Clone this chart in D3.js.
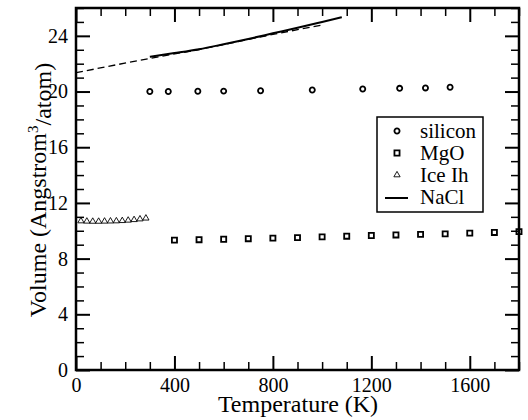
<!DOCTYPE html>
<html>
<head>
<meta charset="utf-8">
<script src="https://cdn.jsdelivr.net/npm/d3@7"></script>
<style>
  body { margin: 0; background: #fff; }
  svg text { font-family: "Liberation Serif", "Times New Roman", Times, "DejaVu Serif", serif !important; fill: #000; }
</style>
</head>
<body>
<div id="chart"></div>
<script>
// ---- data ----
const siliconT = [300, 375, 495, 600, 750, 960, 1165, 1315, 1420, 1520];
const siliconV = [20.0, 20.0, 20.02, 20.03, 20.06, 20.11, 20.18, 20.23, 20.26, 20.31];

const mgoT = [400, 500, 600, 700, 800, 900, 1000, 1100, 1200, 1300, 1400, 1500, 1600, 1700, 1800];
const mgoV = [9.33, 9.36, 9.39, 9.43, 9.47, 9.51, 9.56, 9.61, 9.66, 9.70, 9.74, 9.78, 9.83, 9.88, 9.94];

const iceT = [20, 44, 68, 92, 116, 140, 164, 188, 212, 236, 260, 284];
const iceV = [10.7, 10.68, 10.67, 10.67, 10.68, 10.69, 10.7, 10.72, 10.75, 10.79, 10.84, 10.9];

const naclT = [300, 400, 500, 600, 700, 800, 900, 1000, 1080];
const naclV = [22.5, 22.76, 23.04, 23.4, 23.78, 24.18, 24.58, 25.0, 25.34];

// dashed fit curve
const fitT = [0, 300, 500, 800, 1000];
const fitV = [21.35, 22.38, 23.02, 24.1, 24.78];

const xMajor = [0, 400, 800, 1200, 1600];
const yMajor = [0, 4, 8, 12, 16, 20, 24];
const legendLabels = ["silicon", "MgO", "Ice Ih", "NaCl"];

const FONT = '"Liberation Serif", "Times New Roman", Times, "DejaVu Serif", serif';

// ---- layout ----
const width = 528, height = 420;
const margin = { top: 8, right: 9, bottom: 50, left: 76 };
const iw = width - margin.left - margin.right;
const ih = height - margin.top - margin.bottom;

const svg = d3.select("#chart").append("svg")
  .attr("width", width)
  .attr("height", height)
  .attr("font-family", FONT);

const g = svg.append("g").attr("transform", `translate(${margin.left},${margin.top})`);

const x = d3.scaleLinear().domain([0, 1800]).range([0, iw]);
const y = d3.scaleLinear().domain([0, 26]).range([ih, 0]);

const xMinor = d3.range(0, 1801, 100).filter(v => !xMajor.includes(v));
const yMinor = d3.range(0, 27, 1).filter(v => !yMajor.includes(v));

// ---- axes (ticks point inward on all four sides) ----
function styleAxis(sel, w) {
  sel.attr("font-family", FONT);
  sel.select(".domain").remove();
  sel.selectAll(".tick line").attr("stroke", "#000").attr("stroke-width", w);
  sel.selectAll(".tick text")
    .style("font-size", "20px")
    .style("font-family", FONT)
    .attr("fill", "#000");
}

// bottom
g.append("g").attr("transform", `translate(0,${ih})`)
  .call(d3.axisBottom(x).tickValues(xMajor).tickSize(-14).tickPadding(8).tickFormat(d3.format("d")))
  .call(s => styleAxis(s, 2));
g.append("g").attr("transform", `translate(0,${ih})`)
  .call(d3.axisBottom(x).tickValues(xMinor).tickSize(-8).tickFormat(""))
  .call(s => styleAxis(s, 1.5));
// top
g.append("g")
  .call(d3.axisTop(x).tickValues(xMajor).tickSize(-14).tickFormat(""))
  .call(s => styleAxis(s, 2));
g.append("g")
  .call(d3.axisTop(x).tickValues(xMinor).tickSize(-8).tickFormat(""))
  .call(s => styleAxis(s, 1.5));
// left
g.append("g")
  .call(d3.axisLeft(y).tickValues(yMajor).tickSize(-14).tickPadding(8).tickFormat(d3.format("d")))
  .call(s => styleAxis(s, 2));
g.append("g")
  .call(d3.axisLeft(y).tickValues(yMinor).tickSize(-8).tickFormat(""))
  .call(s => styleAxis(s, 1.5));
// right
g.append("g").attr("transform", `translate(${iw},0)`)
  .call(d3.axisRight(y).tickValues(yMajor).tickSize(-14).tickFormat(""))
  .call(s => styleAxis(s, 2));
g.append("g").attr("transform", `translate(${iw},0)`)
  .call(d3.axisRight(y).tickValues(yMinor).tickSize(-8).tickFormat(""))
  .call(s => styleAxis(s, 1.5));

// frame
g.append("rect")
  .attr("width", iw).attr("height", ih)
  .attr("fill", "none").attr("stroke", "#000").attr("stroke-width", 2.5);

// ---- lines ----
const line = d3.line().x(d => x(d[0])).y(d => y(d[1])).curve(d3.curveMonotoneX);

g.append("path")
  .datum(fitT.map((t, i) => [t, fitV[i]]))
  .attr("fill", "none").attr("stroke", "#000")
  .attr("stroke-width", 1.3).attr("stroke-dasharray", "7,4")
  .attr("d", line);

g.append("path")
  .datum(naclT.map((t, i) => [t, naclV[i]]))
  .attr("fill", "none").attr("stroke", "#000").attr("stroke-width", 2)
  .attr("d", line);

// ---- symbols ----
const circ = d3.symbol().type(d3.symbolCircle).size(21);
const sq = d3.symbol().type(d3.symbolSquare).size(26);
const tri = d3.symbol().type(d3.symbolTriangle).size(17);

g.selectAll(".si").data(siliconT.map((t, i) => [t, siliconV[i]])).join("path")
  .attr("class", "si")
  .attr("transform", d => `translate(${x(d[0])},${y(d[1])})`)
  .attr("d", circ)
  .attr("fill", "none").attr("stroke", "#000").attr("stroke-width", 1.8);

g.selectAll(".mgo").data(mgoT.map((t, i) => [t, mgoV[i]])).join("path")
  .attr("class", "mgo")
  .attr("transform", d => `translate(${x(d[0])},${y(d[1])})`)
  .attr("d", sq)
  .attr("fill", "none").attr("stroke", "#000").attr("stroke-width", 1.8);

g.selectAll(".ice").data(iceT.map((t, i) => [t, iceV[i]])).join("path")
  .attr("class", "ice")
  .attr("transform", d => `translate(${x(d[0])},${y(d[1])})`)
  .attr("d", tri)
  .attr("fill", "none").attr("stroke", "#000").attr("stroke-width", 0.9);

// ---- axis titles ----
svg.append("text")
  .attr("x", 298).attr("y", 412)
  .attr("text-anchor", "middle")
  .style("font-family", FONT)
  .style("font-size", "24px")
  .text("Temperature (K)");

const yl = svg.append("text")
  .attr("transform", "translate(46,190) rotate(-90)")
  .attr("text-anchor", "middle")
  .style("font-family", FONT)
  .style("font-size", "24px");
yl.append("tspan").text("Volume (Angstrom");
yl.append("tspan").attr("dy", "-0.55em").style("font-size", "15px").text("3");
yl.append("tspan").attr("dy", "0.55em").text("/atom)");

// ---- legend ----
const legend = svg.append("g").attr("transform", "translate(377,117)");
legend.append("rect")
  .attr("width", 106).attr("height", 95)
  .attr("fill", "#fff").attr("stroke", "#000").attr("stroke-width", 1.5);

const items = legend.selectAll(".item").data(legendLabels).join("g")
  .attr("class", "item")
  .attr("transform", (_, i) => `translate(0,${14 + i * 22})`);

items.each(function(d, i) {
  const it = d3.select(this);
  if (i === 3) {
    it.append("line").attr("x1", 8).attr("x2", 31).attr("y1", 1).attr("y2", 1)
      .attr("stroke", "#000").attr("stroke-width", 2);
  } else {
    it.append("path")
      .attr("transform", "translate(20,0)")
      .attr("d", [circ, sq, tri][i])
      .attr("fill", "none").attr("stroke", "#000")
      .attr("stroke-width", i === 2 ? 0.9 : 1.8);
  }
  it.append("text")
    .attr("x", 43).attr("y", 7)
    .style("font-family", FONT)
    .style("font-size", "21px")
    .text(d);
});
</script>
</body>
</html>
